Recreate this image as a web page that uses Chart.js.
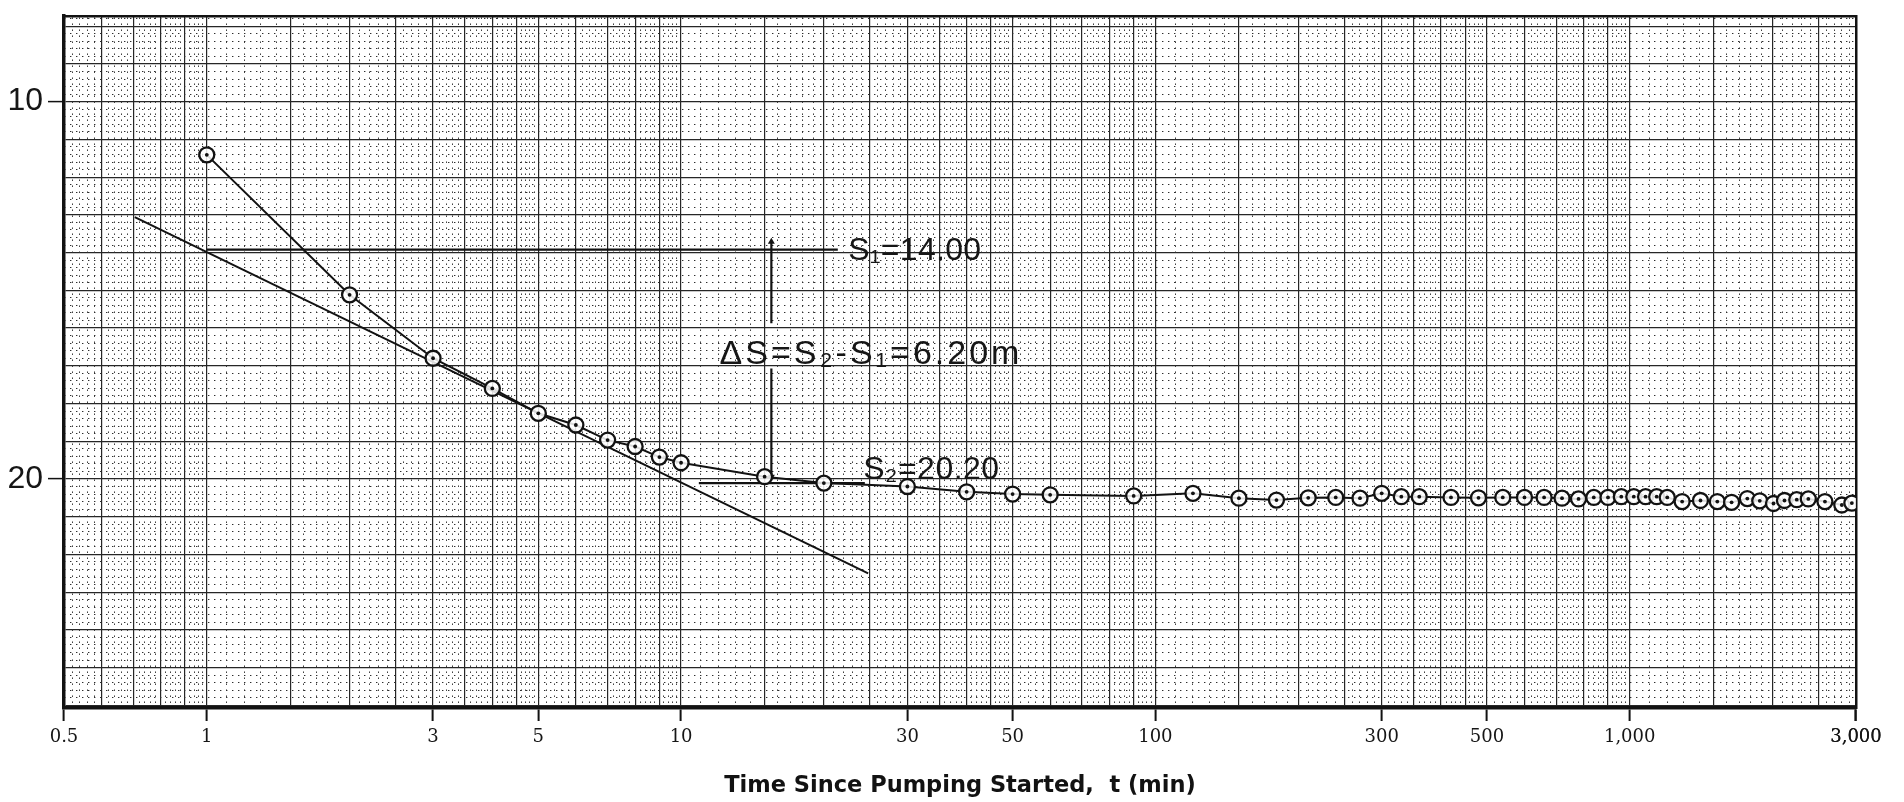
<!DOCTYPE html>
<html>
<head>
<meta charset="utf-8">
<script src="https://cdn.jsdelivr.net/npm/chart.js@4.4.1/dist/chart.umd.min.js"></script>
<style>
  html, body { margin: 0; padding: 0; background: #fff; }
  #wrap { width: 1904px; height: 802px; }
</style>
</head>
<body>
<div id="wrap"><canvas id="chart"></canvas></div>
<script>
// pumping test: drawdown s (m) against time since pumping started (min)
const times = [1, 2, 3, 4, 5, 6, 7, 8, 9, 10, 15, 20, 30, 40, 50, 60, 90, 120, 150,
  180, 210, 240, 270, 300, 330, 360, 420, 480, 540, 600, 660, 720, 780, 840, 900,
  960, 1020, 1080, 1140, 1200, 1290, 1410, 1530, 1640, 1770, 1880, 2010, 2120,
  2250, 2380, 2580, 2800, 2940];
const drawdown = [11.41, 15.12, 16.80, 17.60, 18.26, 18.57, 18.97, 19.14, 19.42, 19.57,
  19.94, 20.11, 20.20, 20.34, 20.40, 20.42, 20.45, 20.38, 20.51,
  20.56, 20.50, 20.49, 20.51, 20.38, 20.47, 20.47, 20.49, 20.50, 20.49, 20.49, 20.49,
  20.51, 20.53, 20.49, 20.49, 20.47, 20.47, 20.47, 20.47, 20.49, 20.60, 20.57,
  20.60, 20.62, 20.52, 20.58, 20.65, 20.57, 20.55, 20.53, 20.60, 20.69, 20.64];

// straight line fitted through the early points
const fitTimes = [0.705, 24.8];
const fitDrawdown = [13.06, 22.50];

// s1 / s2 reading lines and the delta-s arrow
const s1Times = [1, 21.4];
const s1Level = [13.92, 13.92];
const s2Times = [10.9, 24.4];
const s2Level = [20.11, 20.11];
const arrowTime = 15.5;
const arrowUpper = [13.71, 15.87];
const arrowLower = [17.07, 19.94];

// handwritten notes
const noteTexts = ['S\u2081=14.00', '\u0394S=S\u2082-S\u2081=6.20m', 'S\u2082=20.20'];
const noteTimes = [22.5, 12.05, 24.2];
const noteLevels = [13.96, 16.71, 19.76];

// axes
const xLabelTicks = [0.5, 1, 3, 5, 10, 30, 50, 100, 300, 500, 1000, 3000];
const yLabelTicks = [10, 20];
const xMajorSteps = [1, 1.5, 2, 2.5, 3, 3.5, 4, 4.5, 5, 6, 7, 8, 9];
const decades = [0.1, 1, 10, 100, 1000];
const xMin = 0.5, xMax = 3000;
const yMin = 7.73, yMax = 26.07;

const r6 = v => parseFloat(v.toPrecision(6));

// graph paper lines
const xMajor = [];
decades.forEach(d => xMajorSteps.forEach(m => {
  const v = r6(m * d);
  if (v >= xMin && v <= xMax) xMajor.push(v);
}));
xMajor.push(xMax);
const xFine = [];
decades.forEach(d => {
  for (let m = 1; m < 10 - 1e-9; m += (m < 5 - 1e-9 ? 0.1 : 0.2)) {
    const v = r6(r6(m) * d);
    if (v > xMin && v < xMax && !xMajor.includes(v)) xFine.push(v);
  }
});
const yMajor = [];
for (let v = 8; v <= 26; v++) yMajor.push(v);
const yFine = [];
for (let k = 38; k <= 131; k++) {
  const v = r6(k * 0.2);
  if (v > yMin && v < yMax && !Number.isInteger(v)) yFine.push(v);
}

const fmt = v => v >= 1000 ? v.toLocaleString('en-US') : String(v);
const pts = (xs, ys) => xs.map((t, i) => ({ x: t, y: ys[i] }));
const noPad = a => { a.paddingTop = 0; a.paddingBottom = 0; a.paddingLeft = 0; a.paddingRight = 0; };

const noteSize = [32, 34, 32];
const noteSpacing = [0.3, 3, 0.5];
const notesPlugin = {
  id: 'notes',
  afterDatasetsDraw(chart) {
    const { ctx, scales } = chart;
    ctx.save();
    ctx.fillStyle = '#161616';
    ctx.textAlign = 'left';
    ctx.textBaseline = 'middle';
    noteTexts.forEach((txt, i) => {
      ctx.font = noteSize[i] + 'px "Liberation Sans", Arial, sans-serif';
      if ('letterSpacing' in ctx) ctx.letterSpacing = noteSpacing[i] + 'px';
      ctx.fillText(txt, scales.x.getPixelForValue(noteTimes[i]), scales.y.getPixelForValue(noteLevels[i]));
    });
    ctx.restore();
  }
};

const ink = '#121212';

new Chart(document.getElementById('chart'), {
  type: 'line',
  data: {
    datasets: [
      {
        data: pts(times, drawdown),
        showLine: false,
        pointRadius: 1.9,
        pointBackgroundColor: ink,
        pointBorderWidth: 0
      },
      {
        data: pts(times, drawdown),
        borderColor: ink,
        borderWidth: 2,
        pointRadius: 7.5,
        pointBorderWidth: 2.3,
        pointBorderColor: ink,
        pointBackgroundColor: 'rgba(255,255,255,0.85)',
        tension: 0
      },
      {
        data: pts(fitTimes, fitDrawdown),
        borderColor: ink,
        borderWidth: 2,
        pointRadius: 0
      },
      {
        data: pts(s1Times, s1Level),
        borderColor: ink,
        borderWidth: 2.2,
        pointRadius: 0
      },
      {
        data: pts(s2Times, s2Level),
        borderColor: ink,
        borderWidth: 2.2,
        pointRadius: 0
      },
      {
        data: pts([arrowTime, arrowTime], arrowUpper),
        borderColor: ink,
        borderWidth: 2.2,
        pointStyle: 'triangle',
        pointRadius: [4, 0],
        pointBackgroundColor: ink,
        pointBorderWidth: 0
      },
      {
        data: pts([arrowTime, arrowTime], arrowLower),
        borderColor: ink,
        borderWidth: 2.2,
        pointStyle: 'triangle',
        pointRadius: [0, 4],
        pointRotation: [0, 180],
        pointBackgroundColor: ink,
        pointBorderWidth: 0
      }
    ]
  },
  options: {
    responsive: true,
    maintainAspectRatio: false,
    animation: false,
    layout: { padding: 0 },
    plugins: { legend: { display: false }, tooltip: { enabled: false } },
    scales: {
      x: {
        type: 'logarithmic',
        position: 'bottom',
        min: xMin,
        max: xMax,
        afterBuildTicks: a => { a.ticks = xMajor.map(v => ({ value: v })); },
        afterFit: a => { a.height = 94; noPad(a); },
        ticks: {
          autoSkip: false,
          maxRotation: 0,
          padding: 6,
          color: '#161616',
          font: { family: '"DejaVu Serif", serif', size: 18 },
          callback: v => xLabelTicks.includes(v) ? fmt(v) : ''
        },
        grid: {
          color: '#262626',
          lineWidth: 1.2,
          tickLength: 13,
          tickWidth: 2,
          tickColor: c => (c.tick && xLabelTicks.includes(c.tick.value)) ? ink : 'rgba(0,0,0,0)'
        },
        border: { display: true, color: ink, width: 3.5 },
        title: {
          display: true,
          text: 'Time Since Pumping Started,  t (min)',
          color: ink,
          font: { family: '"DejaVu Sans", sans-serif', size: 22.5, weight: 'bold' },
          padding: { top: 0, bottom: 2 }
        }
      },
      y: {
        type: 'linear',
        position: 'left',
        reverse: true,
        min: yMin,
        max: yMax,
        afterBuildTicks: a => { a.ticks = yMajor.map(v => ({ value: v })); },
        afterFit: a => { a.width = 64; noPad(a); },
        ticks: {
          autoSkip: false,
          padding: 5,
          color: '#161616',
          font: { family: '"Liberation Sans", Arial, sans-serif', size: 32 },
          callback: v => yLabelTicks.includes(v) ? String(v) : ''
        },
        grid: {
          color: '#262626',
          lineWidth: 1.2,
          tickLength: 16,
          tickWidth: 1.5,
          tickColor: c => (c.tick && yLabelTicks.includes(c.tick.value)) ? ink : 'rgba(0,0,0,0)'
        },
        border: { display: true, color: ink, width: 3.5 }
      },
      xf: {
        type: 'logarithmic',
        position: 'top',
        min: xMin,
        max: xMax,
        afterBuildTicks: a => { a.ticks = xFine.map(v => ({ value: v })); },
        afterFit: a => { a.height = 16; noPad(a); },
        ticks: { display: false },
        grid: { drawTicks: false, color: '#2e2e2e', lineWidth: 1 },
        border: { display: true, color: ink, width: 2.5, dash: [1.4, 4.6] }
      },
      yf: {
        type: 'linear',
        position: 'right',
        reverse: true,
        min: yMin,
        max: yMax,
        afterBuildTicks: a => { a.ticks = yFine.map(v => ({ value: v })); },
        afterFit: a => { a.width = 48; noPad(a); },
        ticks: { display: false },
        grid: { drawTicks: false, color: '#2e2e2e', lineWidth: 1 },
        border: { display: true, color: ink, width: 2.5, dash: [1.4, 4.6] }
      }
    }
  },
  plugins: [notesPlugin]
});
</script>
</body>
</html>
